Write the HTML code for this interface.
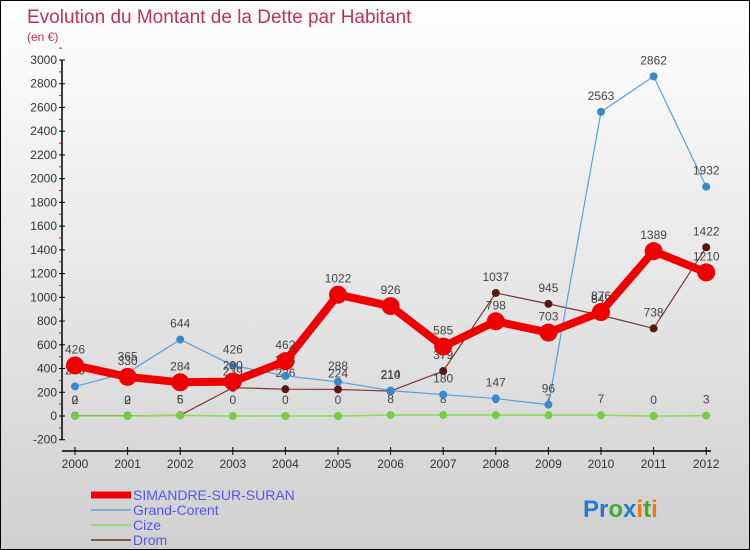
<!DOCTYPE html>
<html><head><meta charset="utf-8"><style>
body{margin:0;}
#wrap{width:748px;height:548px;border:1px solid #000;background:linear-gradient(#fff,#d0d0d0);position:relative;overflow:hidden;font-family:"Liberation Sans",sans-serif;}
</style></head><body>
<div id="wrap">
<svg id="chart" width="748" height="548">
<text x="26" y="22" fill="#c0305a" font-size="19">Evolution du Montant de la Dette par Habitant</text>
<text x="26" y="40" fill="#c0305a" font-size="12">(en €)</text>
</svg>
</div>
<script>
const years=['2000','2001','2002','2003','2004','2005','2006','2007','2008','2009','2010','2011','2012'];
const simandre=[426,330,284,290,462,1022,926,585,798,703,876,1389,1210];
const grandCorent=[249,365,644,426,338,288,214,180,147,96,2563,2862,1932];
const cize=[0,0,5,0,0,0,8,8,8,7,7,0,3];
const drom=[2,2,6,239,226,224,210,379,1037,945,849,738,1422];
const yTicks=[-200,0,200,400,600,800,1000,1200,1400,1600,1800,2000,2200,2400,2600,2800,3000];
const NS='http://www.w3.org/2000/svg';
const svg=document.getElementById('chart');
const X=i=>74+i*52.6;
const Y=v=>415-v*0.11867;
function mk(t,a,p){const e=document.createElementNS(NS,t);for(const k in a)e.setAttribute(k,a[k]);(p||svg).appendChild(e);return e;}
// axes
let ax=mk('line',{x1:61,y1:Y(3000),x2:61,y2:Y(-200),stroke:'#000','stroke-width':1.5});


yTicks.forEach(v=>{
  mk('line',{x1:58,y1:Y(v),x2:64,y2:Y(v),stroke:'#000'});
  mk('line',{x1:58,y1:Y(v+100),x2:61,y2:Y(v+100),stroke:'#e00'});
  const t=mk('text',{x:56,y:Y(v)+4,'text-anchor':'end','font-size':12,fill:'#333'});
  t.textContent=v;
  
  
});
let xa=mk('line',{x1:61,y1:450,x2:710,y2:450,stroke:'#000','stroke-width':1.5});


years.forEach((y,i)=>{
  mk('line',{x1:X(i),y1:446,x2:X(i),y2:454,stroke:'#000'});
  const t=mk('text',{x:X(i),y:467,'text-anchor':'middle','font-size':12,fill:'#333'});
  t.textContent=y;
  
  
});
function series(data,color,w,r,ptColor,name){
  const g=mk('g',{});
  
  
  mk('polyline',{points:data.map((v,i)=>X(i)+','+Y(v)).join(' '),fill:'none',stroke:color,'stroke-width':w,'stroke-linejoin':'round'},g);
  data.forEach((v,i)=>{
    const c=mk('circle',{cx:X(i),cy:Y(v),r:r,fill:ptColor},g);
    
    
    const t=mk('text',{x:X(i),y:Y(v)-12,'text-anchor':'middle','font-size':12,fill:'#444'},g);
    t.textContent=v;
    
    
  });
}
series(drom,'#7a3535',1.2,4,'#5a1515','drom');
series(cize,'#88dd55',1.5,4,'#77cc44','cize');
series(grandCorent,'#5aa0d8',1.2,4,'#3a88cc','grand-corent');
series(simandre,'#ee0000',8,9,'#ee0000','simandre');
// legend
const leg=[['SIMANDRE-SUR-SURAN','#ee0000',7],['Grand-Corent','#7aaed0',2],['Cize','#99dd77',2],['Drom','#8a5555',2]];
leg.forEach((l,i)=>{
  const y=494+i*15;
  const g=mk('g',{});
  
  
  mk('line',{x1:90,y1:y,x2:130,y2:y,stroke:l[1],'stroke-width':l[2]},g);
  const t=mk('text',{x:132,y:y+5,'font-size':14,fill:'#5555ee'},g);
  t.textContent=l[0];
});
const lg=mk('text',{x:582,y:516,'font-size':24,'font-weight':'bold'});


[['Pr','#2a7acc'],['o','#44aa33'],['x','#2a7acc'],['i','#ee7711'],['t','#44aa33'],['i','#ee7711']].forEach(p=>{const s=mk('tspan',{fill:p[1]},lg);s.textContent=p[0];});
</script>
</body></html>
